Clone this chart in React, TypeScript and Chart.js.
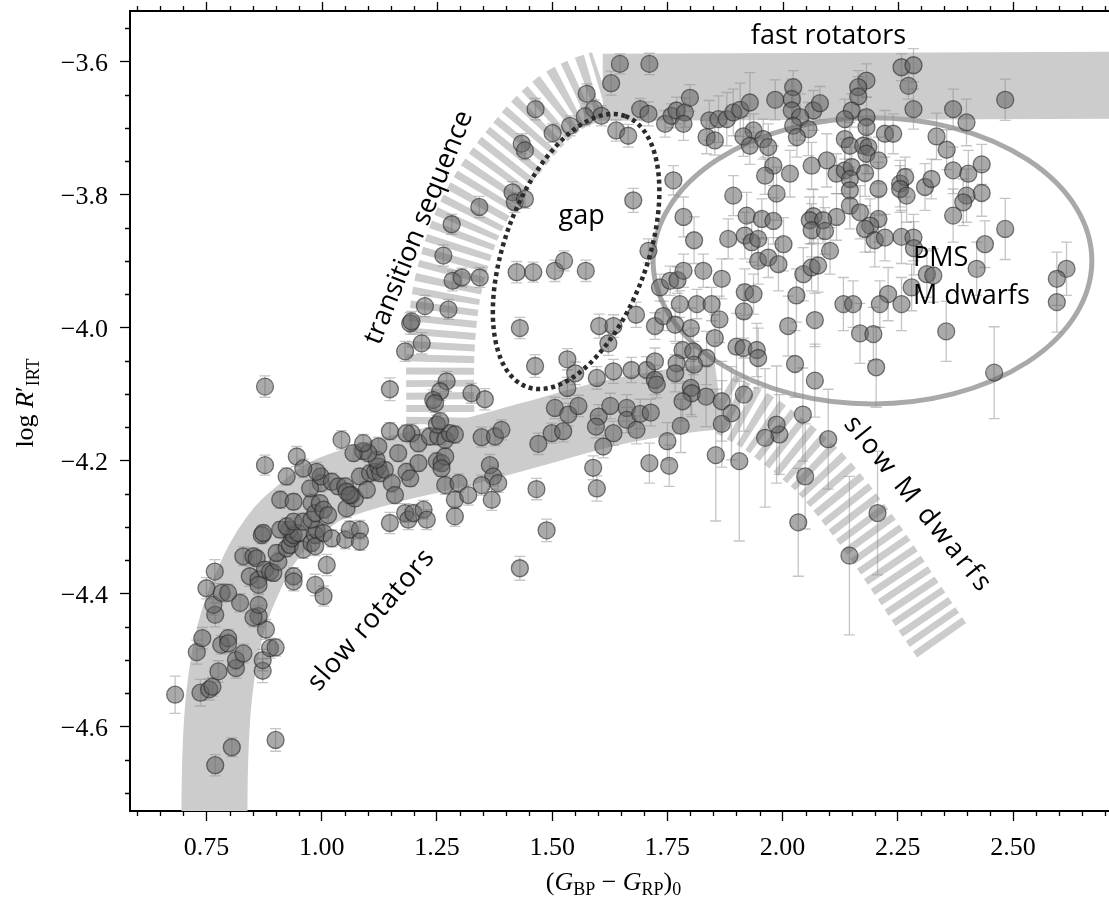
import React, { useEffect, useRef } from 'react';
import { Chart, registerables } from 'chart.js';

Chart.register(...registerables);

// ---------- axes ----------
const xRange = [0.5841, 2.7082];
const yRange = [-4.7268, -3.5245];
const xTickValues = [0.75, 1.0, 1.25, 1.5, 1.75, 2.0, 2.25, 2.5];
const yTickValues = [-4.6, -4.4, -4.2, -4.0, -3.8, -3.6];

// ---------- stars: [colour, log R'IRT, error] ----------
const slowBranch = [
  [0.682,-4.552,0.028],[0.737,-4.549,0.020],[0.756,-4.544,0.016],[0.763,-4.540,0.014],[0.769,-4.658,0.016],
  [0.805,-4.631,0.014],[0.900,-4.620,0.017],[0.776,-4.517,0.016],[0.814,-4.512,0.015],[0.814,-4.500,0.014],
  [0.830,-4.490,0.014],[0.872,-4.516,0.018],[0.872,-4.500,0.016],[0.888,-4.482,0.015],[0.900,-4.481,0.013],
  [0.729,-4.488,0.018],[0.741,-4.467,0.016],[0.782,-4.477,0.014],[0.797,-4.467,0.013],[0.797,-4.475,0.014],
  [0.879,-4.454,0.015],[0.863,-4.434,0.016],[0.852,-4.436,0.014],[0.769,-4.432,0.018],[0.765,-4.417,0.015],
  [0.823,-4.414,0.014],[0.863,-4.417,0.015],[0.750,-4.392,0.016],[0.768,-4.367,0.018],[0.783,-4.399,0.014],
  [0.797,-4.399,0.013],
];

const slowCluster = [
  [0.830,-4.344,0.014],[0.852,-4.344,0.013],[0.859,-4.347,0.012],[0.844,-4.374,0.015],[0.863,-4.379,0.014],
  [0.863,-4.387,0.013],[0.877,-4.364,0.012],[0.888,-4.367,0.013],[0.895,-4.369,0.012],[0.906,-4.352,0.014],
  [0.902,-4.339,0.012],[0.924,-4.332,0.013],[0.931,-4.327,0.012],[0.935,-4.317,0.013],[0.930,-4.304,0.012],
  [0.939,-4.312,0.014],[0.949,-4.309,0.012],[0.960,-4.334,0.013],[0.978,-4.324,0.012],[0.986,-4.312,0.013],
  [0.989,-4.304,0.012],[0.986,-4.329,0.014],[1.004,-4.309,0.013],[1.011,-4.357,0.016],[1.022,-4.317,0.013],
  [1.051,-4.319,0.014],[1.061,-4.304,0.013],[1.083,-4.304,0.014],[1.083,-4.322,0.013],[0.986,-4.387,0.016],
  [1.004,-4.404,0.015],[0.939,-4.374,0.013],[0.939,-4.382,0.014],[0.910,-4.304,0.012],[0.924,-4.299,0.013],
  [0.939,-4.292,0.012],[0.960,-4.292,0.013],[0.978,-4.289,0.012],[0.870,-4.312,0.013],[0.873,-4.309,0.012],
  [0.910,-4.259,0.013],[0.939,-4.262,0.012],[0.978,-4.264,0.014],[0.986,-4.279,0.013],[0.996,-4.264,0.012],
  [1.004,-4.274,0.013],[1.014,-4.282,0.012],[1.054,-4.272,0.014],[1.065,-4.252,0.013],[1.072,-4.257,0.012],
  [0.998,-4.234,0.013],[0.998,-4.224,0.012],[0.989,-4.217,0.014],[0.975,-4.242,0.012],[1.022,-4.232,0.013],
  [1.036,-4.239,0.012],[1.051,-4.239,0.013],[1.054,-4.247,0.012],[1.061,-4.252,0.013],[1.083,-4.224,0.012],
  [1.098,-4.244,0.013],[1.105,-4.219,0.012],[1.116,-4.217,0.013],[1.123,-4.209,0.012],[1.127,-4.219,0.013],
  [1.137,-4.214,0.012],[1.119,-4.199,0.013],[1.123,-4.179,0.014],[1.090,-4.186,0.012],[1.101,-4.189,0.013],
  [1.069,-4.189,0.012],[1.090,-4.174,0.013],[1.152,-4.234,0.014],[1.159,-4.252,0.013],[1.166,-4.189,0.012],
  [1.184,-4.217,0.013],[1.192,-4.227,0.012],[1.195,-4.159,0.014],[1.210,-4.174,0.013],[1.210,-4.204,0.012],
  [1.148,-4.156,0.013],[1.184,-4.159,0.012],[1.148,-4.294,0.016],[1.181,-4.279,0.014],[1.188,-4.289,0.015],
  [1.199,-4.279,0.013],[1.221,-4.274,0.014],[1.228,-4.289,0.015],[1.250,-4.201,0.013],[1.260,-4.204,0.012],
  [1.268,-4.194,0.013],[1.260,-4.212,0.012],[1.268,-4.237,0.014],[1.289,-4.259,0.013],[1.297,-4.234,0.014],
  [1.289,-4.284,0.015],[1.235,-4.164,0.013],[1.253,-4.164,0.012],[1.268,-4.169,0.013],[1.278,-4.159,0.012],
  [1.289,-4.161,0.013],[1.250,-4.146,0.014],[1.257,-4.141,0.013],[1.043,-4.169,0.014],[0.946,-4.194,0.015],
  [0.960,-4.212,0.014],[0.924,-4.224,0.013],[0.877,-4.207,0.015],[0.877,-4.089,0.016],[1.148,-4.093,0.017],
  [1.271,-4.081,0.015],[1.257,-4.096,0.014],[1.242,-4.109,0.015],[1.246,-4.114,0.014],[1.217,-4.024,0.016],
  [1.181,-4.036,0.015],[1.192,-3.994,0.016],[1.195,-3.991,0.015],[1.224,-3.968,0.016],[1.275,-3.973,0.015],
];

const transitionStars = [
  [1.647,-3.604,0.015],[1.711,-3.604,0.016],[1.628,-3.633,0.018],[1.575,-3.649,0.015],[1.591,-3.672,0.014],
  [1.607,-3.682,0.015],[1.571,-3.683,0.014],[1.539,-3.697,0.015],[1.501,-3.708,0.014],[1.464,-3.672,0.016],
  [1.434,-3.724,0.015],[1.441,-3.734,0.014],[1.414,-3.797,0.016],[1.419,-3.812,0.015],[1.441,-3.807,0.014],
  [1.342,-3.819,0.016],[1.282,-3.845,0.015],[1.264,-3.892,0.016],[1.284,-3.930,0.015],[1.304,-3.925,0.014],
  [1.343,-3.925,0.015],[1.423,-3.917,0.016],[1.459,-3.917,0.015],[1.506,-3.915,0.016],[1.526,-3.900,0.015],
  [1.573,-3.915,0.016],[1.676,-3.809,0.018],[1.639,-3.704,0.016],[1.665,-3.712,0.017],[1.709,-3.885,0.018],
  [1.691,-3.672,0.016],[1.709,-3.679,0.018],
];

const gapLowerStars = [
  [1.430,-4.001,0.016],[1.463,-4.058,0.017],[1.533,-4.048,0.016],[1.550,-4.069,0.017],[1.533,-4.091,0.016],
  [1.602,-3.998,0.018],[1.633,-3.998,0.017],[1.622,-4.024,0.018],[1.682,-3.981,0.019],[1.597,-4.076,0.017],
  [1.633,-4.066,0.018],[1.672,-4.064,0.019],[1.705,-4.064,0.020],[1.723,-4.051,0.020],[1.723,-4.079,0.022],
  [1.727,-4.086,0.020],[1.506,-4.121,0.016],[1.535,-4.131,0.017],[1.557,-4.118,0.016],[1.499,-4.159,0.015],
  [1.524,-4.156,0.016],[1.470,-4.175,0.016],[1.601,-4.134,0.018],[1.626,-4.118,0.019],[1.595,-4.149,0.017],
  [1.633,-4.159,0.018],[1.611,-4.179,0.017],[1.662,-4.121,0.020],[1.662,-4.139,0.019],[1.691,-4.130,0.022],
  [1.714,-4.128,0.020],[1.683,-4.154,0.021],[1.589,-4.211,0.018],[1.597,-4.242,0.019],[1.466,-4.243,0.016],
  [1.488,-4.305,0.017],[1.430,-4.362,0.018],[1.325,-4.099,0.015],[1.354,-4.108,0.016],[1.347,-4.165,0.015],
  [1.376,-4.164,0.014],[1.390,-4.154,0.015],[1.365,-4.207,0.016],[1.372,-4.224,0.015],[1.383,-4.234,0.014],
  [1.347,-4.237,0.015],[1.369,-4.259,0.016],[1.318,-4.252,0.015],
];

const fastStars = [
  [1.734,-3.940,0.020],[1.756,-3.930,0.022],[1.772,-3.929,0.020],[1.785,-3.915,0.025],[1.785,-3.834,0.030],
  [1.808,-3.869,0.035],[1.828,-3.915,0.025],[1.868,-3.927,0.030],[1.777,-3.965,0.020],[1.814,-3.965,0.022],
  [1.846,-3.965,0.025],[1.745,-3.694,0.020],[1.759,-3.682,0.018],[1.770,-3.674,0.020],[1.788,-3.677,0.022],
  [1.785,-3.694,0.025],[1.799,-3.655,0.020],[1.763,-3.779,0.022],[1.841,-3.689,0.030],[1.861,-3.687,0.035],
  [1.879,-3.687,0.040],[1.893,-3.677,0.035],[1.908,-3.673,0.040],[1.929,-3.662,0.045],[1.835,-3.714,0.025],
  [1.853,-3.719,0.022],[1.984,-3.658,0.030],[1.893,-3.802,0.030],[1.937,-3.704,0.025],[1.915,-3.713,0.030],
  [1.929,-3.727,0.028],[1.958,-3.717,0.030],[1.969,-3.729,0.035],[1.980,-3.757,0.030],[1.962,-3.772,0.028],
  [1.987,-3.799,0.040],[1.922,-3.832,0.035],[1.955,-3.837,0.030],[1.980,-3.840,0.035],[1.882,-3.867,0.030],
  [1.918,-3.862,0.035],[1.933,-3.872,0.030],[1.947,-3.867,0.040],[1.947,-3.900,0.035],[1.969,-3.895,0.030],
  [1.991,-3.905,0.040],[1.918,-3.947,0.035],[1.937,-3.950,0.030],
];

const pmsStars = [
  [2.258,-3.609,0.020],[2.284,-3.606,0.025],[2.273,-3.637,0.020],[2.284,-3.672,0.030],[2.483,-3.658,0.031],
  [2.370,-3.672,0.030],[2.399,-3.692,0.035],[2.182,-3.629,0.025],[2.164,-3.639,0.025],[2.164,-3.653,0.030],
  [2.150,-3.674,0.025],[2.135,-3.687,0.030],[2.182,-3.684,0.030],[2.182,-3.699,0.025],[2.067,-3.674,0.030],
  [2.081,-3.663,0.025],[2.023,-3.639,0.025],[2.020,-3.657,0.030],[2.020,-3.674,0.030],[2.038,-3.684,0.035],
  [2.023,-3.697,0.030],[2.056,-3.702,0.040],[2.031,-3.714,0.030],[2.222,-3.709,0.035],[2.240,-3.709,0.030],
  [2.135,-3.717,0.030],[2.146,-3.727,0.035],[2.175,-3.727,0.030],[2.186,-3.729,0.040],[2.182,-3.739,0.030],
  [2.208,-3.749,0.035],[2.096,-3.749,0.040],[2.063,-3.757,0.035],[2.016,-3.769,0.035],[2.117,-3.769,0.030],
  [2.135,-3.764,0.035],[2.150,-3.759,0.030],[2.179,-3.768,0.035],[2.146,-3.777,0.030],[2.146,-3.794,0.035],
  [2.208,-3.792,0.040],[2.255,-3.784,0.035],[2.266,-3.774,0.030],[2.255,-3.792,0.035],[2.269,-3.802,0.040],
  [2.309,-3.789,0.035],[2.323,-3.777,0.030],[2.334,-3.713,0.035],[2.356,-3.733,0.030],[2.370,-3.764,0.035],
  [2.403,-3.769,0.035],[2.432,-3.755,0.030],[2.432,-3.798,0.035],[2.399,-3.802,0.040],[2.392,-3.812,0.035],
  [2.370,-3.832,0.040],[2.146,-3.817,0.035],[2.168,-3.827,0.040],[2.117,-3.834,0.035],[2.067,-3.833,0.040],
  [2.059,-3.839,0.035],[2.088,-3.839,0.035],[2.063,-3.854,0.040],[2.092,-3.855,0.035],
  [2.208,-3.837,0.035],[2.190,-3.847,0.040],[2.179,-3.852,0.035],[2.200,-3.869,0.040],[2.222,-3.865,0.035],
  [2.258,-3.864,0.040],[2.284,-3.865,0.035],[2.285,-3.881,0.040],[2.439,-3.875,0.035],[2.483,-3.852,0.046],
  [2.421,-3.912,0.040],[2.313,-3.920,0.035],[2.327,-3.922,0.040],[2.002,-3.875,0.040],[2.103,-3.885,0.035],
  [2.045,-3.920,0.040],[2.063,-3.910,0.035],[2.077,-3.907,0.040],[2.030,-3.952,0.040],[2.132,-3.965,0.040],
  [2.153,-3.965,0.035],[2.229,-3.950,0.040],[2.211,-3.965,0.035],[2.258,-3.965,0.040],[2.280,-3.940,0.035],
  [2.616,-3.912,0.040],[2.595,-3.927,0.040],[2.595,-3.962,0.045],
];

const lowerRightStars = [
  [2.012,-3.998,0.045],[2.070,-3.989,0.040],[2.168,-4.009,0.045],[2.197,-4.010,0.040],[2.355,-4.006,0.045],
  [2.027,-4.055,0.050],[2.070,-4.080,0.055],[2.203,-4.060,0.060],[2.459,-4.068,0.069],[1.993,-4.161,0.060],
  [2.044,-4.131,0.070],[2.099,-4.168,0.075],[2.049,-4.224,0.079],[2.034,-4.293,0.081],[2.206,-4.279,0.093],
  [2.145,-4.343,0.119],
  [1.723,-3.998,0.020],[1.741,-3.983,0.022],[1.767,-3.996,0.025],[1.801,-4.001,0.030],[1.863,-3.988,0.035],
  [1.916,-3.976,0.040],[1.853,-4.016,0.035],[1.783,-4.034,0.030],[1.806,-4.036,0.035],[1.900,-4.029,0.050],
  [1.915,-4.031,0.045],[1.944,-4.034,0.040],[1.947,-4.046,0.045],[1.835,-4.046,0.040],[1.770,-4.054,0.030],
  [1.767,-4.069,0.028],[1.808,-4.056,0.035],[1.801,-4.091,0.040],[1.803,-4.099,0.035],[1.834,-4.104,0.045],
  [1.783,-4.111,0.030],[1.868,-4.111,0.060],[1.889,-4.129,0.070],[1.916,-4.101,0.055],[1.868,-4.145,0.065],
  [1.779,-4.148,0.040],[1.750,-4.171,0.028],[1.711,-4.204,0.030],[1.754,-4.208,0.031],[1.855,-4.192,0.099],
  [1.906,-4.201,0.120],[1.962,-4.166,0.104],[1.987,-4.146,0.088],
];

const allStars = [
  ...slowBranch, ...slowCluster, ...transitionStars, ...gapLowerStars,
  ...fastStars, ...pmsStars, ...lowerRightStars,
];

// ---------- sequence bands (centre lines, data coordinates) ----------
const fastRotatorBand = [[1.61,-3.639],[2.75,-3.636]];
const slowRotatorBand = [
  [0.767,-4.78],[0.769,-4.65],[0.778,-4.55],[0.800,-4.46],[0.835,-4.39],[0.894,-4.315],
  [0.960,-4.27],[1.018,-4.243],[1.163,-4.212],[1.300,-4.190],[1.450,-4.162],[1.619,-4.130],
  [1.750,-4.113],[1.862,-4.103],
];
const transitionBand = [
  [1.257,-4.146],[1.261,-4.003],[1.289,-3.898],[1.343,-3.808],[1.437,-3.718],
  [1.508,-3.668],[1.563,-3.646],[1.610,-3.635],
];
const slowMBand = [[1.862,-4.110],[1.973,-4.156],[2.117,-4.247],[2.350,-4.475]];

// ---------- regions ----------
const gapEllipse = { cx: 1.552, cy: -3.886, major: 0.3125, minor: 0.155, angleDeg: 70 };
const pmsEllipse = { cx: 2.195, cy: -3.900, rx: 0.476, ry: 0.215 };

const labelItems = [
  { text: 'fast rotators', x: 2.0996, y: -3.5734, angle: 0, align: 'center', base: 'alphabetic', spacing: 0 },
  { text: 'gap', x: 1.564, y: -3.8445, angle: 0, align: 'center', base: 'alphabetic', spacing: 0 },
  { text: 'PMS', x: 2.283, y: -3.9072, angle: 0, align: 'left', base: 'alphabetic', spacing: 0 },
  { text: 'M dwarfs', x: 2.283, y: -3.9644, angle: 0, align: 'left', base: 'alphabetic', spacing: 0 },
  { text: 'transition sequence', x: 1.211, y: -3.850, angle: -68, align: 'center', base: 'middle', spacing: 0 },
  { text: 'slow rotators', x: 1.108, y: -4.4396, angle: -49, align: 'center', base: 'middle', spacing: 1 },
  { text: 'slow M dwarfs', x: 2.294, y: -4.2667, angle: 51, align: 'center', base: 'middle', spacing: 3 },
];

const SERIF = '"Liberation Serif", "DejaVu Serif", serif';
const SANS = '"Open Sans", "Noto Sans", sans-serif';
const SCATTER_INDEX = 4;

const toXY = (arr: number[][]) => arr.map(([x, y]) => ({ x, y }));

const bandDataset = (pts: number[][], width: number, dash: number[]) => ({
  data: toXY(pts),
  showLine: true,
  borderColor: '#cccccc',
  borderWidth: width,
  borderDash: dash,
  borderCapStyle: 'butt',
  borderJoinStyle: 'round',
  tension: 0.4,
  capBezierPoints: false,
  pointRadius: 0,
  pointHoverRadius: 0,
  fill: false,
  clip: 0,
  order: 10,
});

const fmtX = (v: number) => v.toFixed(2);
const fmtY = (v: number) => (v < 0 ? '−' : '') + Math.abs(v).toFixed(1);

const decorPlugin = {
  id: 'decor',
  beforeDatasetDraw(chart: any, args: any) {
    if (args.index !== SCATTER_INDEX) return;
    const { ctx, chartArea: ca } = chart;
    const xs = chart.scales.x;
    const ys = chart.scales.y;
    ctx.save();
    ctx.beginPath();
    ctx.rect(ca.left, ca.top, ca.right - ca.left, ca.bottom - ca.top);
    ctx.clip();
    // PMS ellipse
    const pcx = xs.getPixelForValue(pmsEllipse.cx);
    const pcy = ys.getPixelForValue(pmsEllipse.cy);
    const prx = Math.abs(xs.getPixelForValue(pmsEllipse.cx + pmsEllipse.rx) - pcx);
    const pry = Math.abs(ys.getPixelForValue(pmsEllipse.cy + pmsEllipse.ry) - pcy);
    ctx.beginPath();
    ctx.ellipse(pcx, pcy, prx, pry, 0, 0, Math.PI * 2);
    ctx.strokeStyle = '#a9a9a9';
    ctx.lineWidth = 5;
    ctx.stroke();
    // error bars
    ctx.strokeStyle = 'rgba(140,140,140,0.5)';
    ctx.lineWidth = 1.3;
    for (const [x, y, e] of allStars) {
      const px = xs.getPixelForValue(x);
      const y1 = ys.getPixelForValue(y + e);
      const y2 = ys.getPixelForValue(y - e);
      ctx.beginPath();
      ctx.moveTo(px, y1); ctx.lineTo(px, y2);
      ctx.moveTo(px - 5.5, y1); ctx.lineTo(px + 5.5, y1);
      ctx.moveTo(px - 5.5, y2); ctx.lineTo(px + 5.5, y2);
      ctx.stroke();
    }
    ctx.restore();
  },
  afterDatasetsDraw(chart: any) {
    const { ctx, chartArea: ca } = chart;
    const xs = chart.scales.x;
    const ys = chart.scales.y;
    const pxPerX = Math.abs(xs.getPixelForValue(1) - xs.getPixelForValue(0));
    ctx.save();
    ctx.beginPath();
    ctx.rect(ca.left, ca.top, ca.right - ca.left, ca.bottom - ca.top);
    ctx.clip();
    // gap ellipse
    const gx = xs.getPixelForValue(gapEllipse.cx);
    const gy = ys.getPixelForValue(gapEllipse.cy);
    ctx.beginPath();
    ctx.ellipse(gx, gy, gapEllipse.major * pxPerX, gapEllipse.minor * pxPerX,
      -gapEllipse.angleDeg * Math.PI / 180, 0, Math.PI * 2);
    ctx.setLineDash([4, 3.6]);
    ctx.strokeStyle = '#2b2b2b';
    ctx.lineWidth = 4.5;
    ctx.stroke();
    ctx.setLineDash([]);
    // labels
    ctx.fillStyle = '#000';
    ctx.font = `27px ${SANS}`;
    for (const l of labelItems) {
      ctx.save();
      ctx.translate(xs.getPixelForValue(l.x), ys.getPixelForValue(l.y));
      ctx.rotate(l.angle * Math.PI / 180);
      ctx.textAlign = l.align as CanvasTextAlign;
      ctx.textBaseline = l.base as CanvasTextBaseline;
      (ctx as any).letterSpacing = `${l.spacing}px`;
      ctx.fillText(l.text, 0, 0);
      ctx.restore();
    }
    ctx.restore();
  },
  afterDraw(chart: any) {
    const { ctx, chartArea: ca } = chart;
    const xs = chart.scales.x;
    const ys = chart.scales.y;
    ctx.save();
    ctx.strokeStyle = '#000';
    // top spine
    ctx.lineWidth = 2;
    ctx.beginPath();
    ctx.moveTo(ca.left - 1, ca.top);
    ctx.lineTo(ca.right, ca.top);
    ctx.stroke();
    // ticks
    ctx.lineWidth = 1.3;
    ctx.beginPath();
    for (let k = 10; k <= 56; k++) {
      const v = k * 0.05;
      if (v < xRange[0] || v > xRange[1]) continue;
      const px = Math.round(xs.getPixelForValue(v)) + 0.5;
      const major = k % 5 === 0;
      const len = major ? 9 : 5;
      if (!major) { ctx.moveTo(px, ca.bottom); ctx.lineTo(px, ca.bottom + len); }
      ctx.moveTo(px, ca.top); ctx.lineTo(px, ca.top - len);
    }
    for (let k = -95; k <= -70; k++) {
      const v = k * 0.05;
      if (v < yRange[0] || v > yRange[1]) continue;
      if (k % 4 === 0) continue;
      const py = Math.round(ys.getPixelForValue(v)) + 0.5;
      ctx.moveTo(ca.left, py); ctx.lineTo(ca.left - 5, py);
    }
    ctx.stroke();

    // tick labels
    ctx.fillStyle = '#000';
    ctx.font = `26px ${SERIF}`;
    ctx.textBaseline = 'alphabetic';
    ctx.textAlign = 'center';
    for (const v of xTickValues) {
      ctx.fillText(fmtX(v), xs.getPixelForValue(v), ca.bottom + 44);
    }
    ctx.textAlign = 'right';
    for (const v of yTickValues) {
      ctx.fillText(fmtY(v), ca.left - 22, ys.getPixelForValue(v) + 9.5);
    }

    // axis titles
    const drawParts = (parts: any[], cx: number, baseY: number) => {
      let total = 0;
      for (const p of parts) { ctx.font = p.f; total += ctx.measureText(p.t).width; }
      let x = cx - total / 2;
      for (const p of parts) {
        ctx.font = p.f;
        ctx.fillText(p.t, x, baseY + p.dy);
        x += ctx.measureText(p.t).width;
      }
    };
    ctx.textAlign = 'left';
    ctx.textBaseline = 'alphabetic';
    const n = `26px ${SERIF}`;
    const it = `italic 26px ${SERIF}`;
    const sb = `18px ${SERIF}`;
    drawParts([
      { t: '(', f: n, dy: 0 }, { t: 'G', f: it, dy: 0 }, { t: 'BP', f: sb, dy: 5 },
      { t: ' − ', f: n, dy: 0 }, { t: 'G', f: it, dy: 0 }, { t: 'RP', f: sb, dy: 5 },
      { t: ')', f: n, dy: 0 }, { t: '0', f: sb, dy: 5 },
    ], (ca.left + ca.right) / 2 - 6, 890);

    ctx.save();
    ctx.translate(33, (ca.top + ca.bottom) / 2 - 8);
    ctx.rotate(-Math.PI / 2);
    drawParts([
      { t: 'log ', f: n, dy: 0 }, { t: 'R', f: it, dy: 0 }, { t: '′', f: n, dy: 0 },
      { t: 'IRT', f: sb, dy: 6 },
    ], 0, 0);
    ctx.restore();
    ctx.restore();
  },
};

export default function App() {
  const canvasRef = useRef<HTMLCanvasElement>(null);

  useEffect(() => {
    const canvas = canvasRef.current;
    if (!canvas) return;
    const chart = new Chart(canvas, {
      type: 'scatter',
      data: {
        datasets: [
          bandDataset(fastRotatorBand, 67, []) as any,
          bandDataset(slowRotatorBand, 66, []) as any,
          bandDataset(transitionBand, 68, [7, 5.5]) as any,
          bandDataset(slowMBand, 60, [7, 5.5]) as any,
          {
            data: allStars.map(([x, y]) => ({ x, y })),
            pointRadius: 8.5,
            pointHoverRadius: 8.5,
            pointBackgroundColor: 'rgba(100,100,100,0.55)',
            pointBorderColor: 'rgba(40,40,40,0.6)',
            pointBorderWidth: 1.3,
            showLine: false,
            order: 0,
          } as any,
        ],
      },
      options: {
        responsive: false,
        animation: false,
        events: [],
        layout: { autoPadding: false, padding: { top: 11, right: 0, bottom: 0, left: 0 } },
        plugins: { legend: { display: false }, tooltip: { enabled: false } },
        scales: {
          x: {
            type: 'linear',
            position: 'bottom',
            min: xRange[0],
            max: xRange[1],
            afterBuildTicks: (s: any) => { s.ticks = xTickValues.map((value) => ({ value })); },
            afterFit: (s: any) => { s.height = 90; },
            ticks: { display: false },
            grid: { display: true, drawOnChartArea: false, drawTicks: true, tickLength: 10, tickWidth: 1.3, tickColor: '#000', color: '#000' },
            border: { display: true, color: '#000', width: 2 },
          },
          y: {
            type: 'linear',
            position: 'left',
            min: yRange[0],
            max: yRange[1],
            afterBuildTicks: (s: any) => { s.ticks = yTickValues.map((value) => ({ value })); },
            afterFit: (s: any) => { s.width = 130; },
            ticks: { display: false },
            grid: { display: true, drawOnChartArea: false, drawTicks: true, tickLength: 10, tickWidth: 1.3, tickColor: '#000', color: '#000' },
            border: { display: true, color: '#000', width: 2 },
          },
        },
      } as any,
      plugins: [decorPlugin as any],
    });
    return () => chart.destroy();
  }, []);

  return (
    <div style={{ position: 'absolute', left: 0, top: 0, width: 1109, height: 901, background: '#fff' }}>
      <canvas ref={canvasRef} width={1109} height={901} style={{ display: 'block', width: 1109, height: 901 }} />
    </div>
  );
}
